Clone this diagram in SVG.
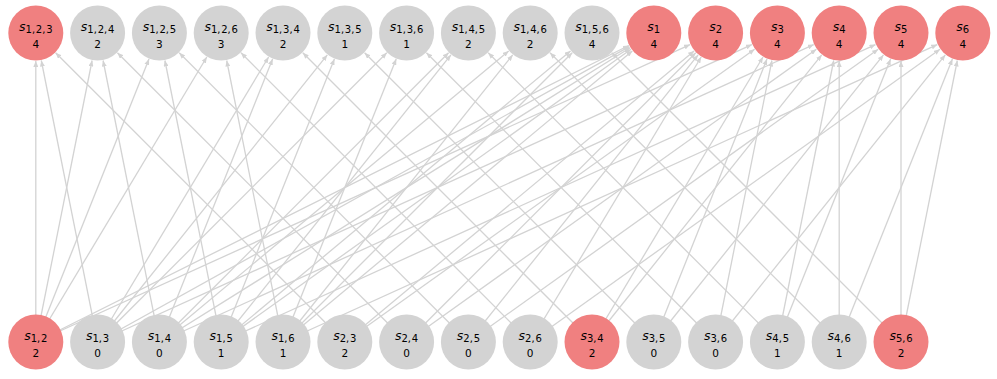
<svg xmlns="http://www.w3.org/2000/svg" width="997" height="379" viewBox="0 0 997 379">
<style>
.e{stroke:#d3d3d3;stroke-width:1.3;fill:none;marker-end:url(#ah)}
.g{fill:#d3d3d3}
.r{fill:#f08080}
.l{font-family:"DejaVu Sans",sans-serif;text-anchor:middle;fill:#000}
.s{font-size:12.5px;font-style:oblique}
.sub{font-size:10px;word-spacing:-2.4px}
.n{font-family:"DejaVu Sans",sans-serif;font-size:10.5px;text-anchor:middle;fill:#000}
</style>
<defs>
<marker id="ah" viewBox="0 0 6 5" refX="6" refY="2.5" markerWidth="6" markerHeight="5" markerUnits="userSpaceOnUse" orient="auto">
<path d="M0,0 L6,2.5 L0,5 z" fill="#d3d3d3"/>
</marker>
</defs>
<rect width="997" height="379" fill="#fff"/>
<g id="edges">
<line class="e" x1="35.8" y1="342" x2="35.8" y2="61"/>
<line class="e" x1="35.8" y1="342" x2="92.1" y2="60.5"/>
<line class="e" x1="35.8" y1="342" x2="149.0" y2="59.0"/>
<line class="e" x1="35.8" y1="342" x2="206.8" y2="57.0"/>
<line class="e" x1="35.8" y1="342" x2="628.8" y2="45.5"/>
<line class="e" x1="35.8" y1="342" x2="690.1" y2="44.6"/>
<line class="e" x1="97.6" y1="342" x2="41.3" y2="60.5"/>
<line class="e" x1="97.6" y1="342" x2="268.6" y2="57.0"/>
<line class="e" x1="97.6" y1="342" x2="327.3" y2="54.9"/>
<line class="e" x1="97.6" y1="342" x2="386.8" y2="52.8"/>
<line class="e" x1="97.6" y1="342" x2="629.3" y2="46.6"/>
<line class="e" x1="97.6" y1="342" x2="751.9" y2="44.6"/>
<line class="e" x1="159.4" y1="342" x2="103.1" y2="60.5"/>
<line class="e" x1="159.4" y1="342" x2="272.6" y2="59.0"/>
<line class="e" x1="159.4" y1="342" x2="448.6" y2="52.8"/>
<line class="e" x1="159.4" y1="342" x2="508.7" y2="50.9"/>
<line class="e" x1="159.4" y1="342" x2="630.1" y2="47.8"/>
<line class="e" x1="159.4" y1="342" x2="813.7" y2="44.6"/>
<line class="e" x1="221.2" y1="342" x2="164.9" y2="60.5"/>
<line class="e" x1="221.2" y1="342" x2="334.4" y2="59.0"/>
<line class="e" x1="221.2" y1="342" x2="450.9" y2="54.9"/>
<line class="e" x1="221.2" y1="342" x2="570.5" y2="50.9"/>
<line class="e" x1="221.2" y1="342" x2="631.0" y2="49.3"/>
<line class="e" x1="221.2" y1="342" x2="875.5" y2="44.6"/>
<line class="e" x1="283" y1="342" x2="226.7" y2="60.5"/>
<line class="e" x1="283" y1="342" x2="396.2" y2="59.0"/>
<line class="e" x1="283" y1="342" x2="512.7" y2="54.9"/>
<line class="e" x1="283" y1="342" x2="572.2" y2="52.8"/>
<line class="e" x1="283" y1="342" x2="632.3" y2="50.9"/>
<line class="e" x1="283" y1="342" x2="937.3" y2="44.6"/>
<line class="e" x1="344.8" y1="342" x2="55.6" y2="52.8"/>
<line class="e" x1="344.8" y1="342" x2="694.1" y2="50.9"/>
<line class="e" x1="344.8" y1="342" x2="754.6" y2="49.3"/>
<line class="e" x1="406.6" y1="342" x2="117.4" y2="52.8"/>
<line class="e" x1="406.6" y1="342" x2="695.8" y2="52.8"/>
<line class="e" x1="406.6" y1="342" x2="816.4" y2="49.3"/>
<line class="e" x1="468.4" y1="342" x2="179.2" y2="52.8"/>
<line class="e" x1="468.4" y1="342" x2="698.1" y2="54.9"/>
<line class="e" x1="468.4" y1="342" x2="878.2" y2="49.3"/>
<line class="e" x1="530.2" y1="342" x2="241.0" y2="52.8"/>
<line class="e" x1="530.2" y1="342" x2="701.2" y2="57.0"/>
<line class="e" x1="530.2" y1="342" x2="940.0" y2="49.3"/>
<line class="e" x1="592" y1="342" x2="302.8" y2="52.8"/>
<line class="e" x1="592" y1="342" x2="763.0" y2="57.0"/>
<line class="e" x1="592" y1="342" x2="821.7" y2="54.9"/>
<line class="e" x1="653.8" y1="342" x2="364.6" y2="52.8"/>
<line class="e" x1="653.8" y1="342" x2="767.0" y2="59.0"/>
<line class="e" x1="653.8" y1="342" x2="883.5" y2="54.9"/>
<line class="e" x1="715.6" y1="342" x2="426.4" y2="52.8"/>
<line class="e" x1="715.6" y1="342" x2="771.9" y2="60.5"/>
<line class="e" x1="715.6" y1="342" x2="945.3" y2="54.9"/>
<line class="e" x1="777.4" y1="342" x2="488.2" y2="52.8"/>
<line class="e" x1="777.4" y1="342" x2="833.7" y2="60.5"/>
<line class="e" x1="777.4" y1="342" x2="890.6" y2="59.0"/>
<line class="e" x1="839.2" y1="342" x2="550.0" y2="52.8"/>
<line class="e" x1="839.2" y1="342" x2="839.2" y2="61"/>
<line class="e" x1="839.2" y1="342" x2="952.4" y2="59.0"/>
<line class="e" x1="901" y1="342" x2="611.8" y2="52.8"/>
<line class="e" x1="901" y1="342" x2="901" y2="61"/>
<line class="e" x1="901" y1="342" x2="957.3" y2="60.5"/>
</g>
<g id="s123"><circle class="r" cx="35.8" cy="33" r="27.5"/><text class="l" x="35.8" y="31"><tspan class="s">s</tspan><tspan class="sub" dy="2.3">1, 2, 3</tspan></text><text class="n" x="35.8" y="47.5">4</text></g>
<g id="s124"><circle class="g" cx="97.6" cy="33" r="27.5"/><text class="l" x="97.6" y="31"><tspan class="s">s</tspan><tspan class="sub" dy="2.3">1, 2, 4</tspan></text><text class="n" x="97.6" y="47.5">2</text></g>
<g id="s125"><circle class="g" cx="159.4" cy="33" r="27.5"/><text class="l" x="159.4" y="31"><tspan class="s">s</tspan><tspan class="sub" dy="2.3">1, 2, 5</tspan></text><text class="n" x="159.4" y="47.5">3</text></g>
<g id="s126"><circle class="g" cx="221.2" cy="33" r="27.5"/><text class="l" x="221.2" y="31"><tspan class="s">s</tspan><tspan class="sub" dy="2.3">1, 2, 6</tspan></text><text class="n" x="221.2" y="47.5">3</text></g>
<g id="s134"><circle class="g" cx="283" cy="33" r="27.5"/><text class="l" x="283" y="31"><tspan class="s">s</tspan><tspan class="sub" dy="2.3">1, 3, 4</tspan></text><text class="n" x="283" y="47.5">2</text></g>
<g id="s135"><circle class="g" cx="344.8" cy="33" r="27.5"/><text class="l" x="344.8" y="31"><tspan class="s">s</tspan><tspan class="sub" dy="2.3">1, 3, 5</tspan></text><text class="n" x="344.8" y="47.5">1</text></g>
<g id="s136"><circle class="g" cx="406.6" cy="33" r="27.5"/><text class="l" x="406.6" y="31"><tspan class="s">s</tspan><tspan class="sub" dy="2.3">1, 3, 6</tspan></text><text class="n" x="406.6" y="47.5">1</text></g>
<g id="s145"><circle class="g" cx="468.4" cy="33" r="27.5"/><text class="l" x="468.4" y="31"><tspan class="s">s</tspan><tspan class="sub" dy="2.3">1, 4, 5</tspan></text><text class="n" x="468.4" y="47.5">2</text></g>
<g id="s146"><circle class="g" cx="530.2" cy="33" r="27.5"/><text class="l" x="530.2" y="31"><tspan class="s">s</tspan><tspan class="sub" dy="2.3">1, 4, 6</tspan></text><text class="n" x="530.2" y="47.5">2</text></g>
<g id="s156"><circle class="g" cx="592" cy="33" r="27.5"/><text class="l" x="592" y="31"><tspan class="s">s</tspan><tspan class="sub" dy="2.3">1, 5, 6</tspan></text><text class="n" x="592" y="47.5">4</text></g>
<g id="s1"><circle class="r" cx="653.8" cy="33" r="27.5"/><text class="l" x="653.8" y="31"><tspan class="s">s</tspan><tspan class="sub" dy="2.3">1</tspan></text><text class="n" x="653.8" y="47.5">4</text></g>
<g id="s2"><circle class="r" cx="715.6" cy="33" r="27.5"/><text class="l" x="715.6" y="31"><tspan class="s">s</tspan><tspan class="sub" dy="2.3">2</tspan></text><text class="n" x="715.6" y="47.5">4</text></g>
<g id="s3"><circle class="r" cx="777.4" cy="33" r="27.5"/><text class="l" x="777.4" y="31"><tspan class="s">s</tspan><tspan class="sub" dy="2.3">3</tspan></text><text class="n" x="777.4" y="47.5">4</text></g>
<g id="s4"><circle class="r" cx="839.2" cy="33" r="27.5"/><text class="l" x="839.2" y="31"><tspan class="s">s</tspan><tspan class="sub" dy="2.3">4</tspan></text><text class="n" x="839.2" y="47.5">4</text></g>
<g id="s5"><circle class="r" cx="901" cy="33" r="27.5"/><text class="l" x="901" y="31"><tspan class="s">s</tspan><tspan class="sub" dy="2.3">5</tspan></text><text class="n" x="901" y="47.5">4</text></g>
<g id="s6"><circle class="r" cx="962.8" cy="33" r="27.5"/><text class="l" x="962.8" y="31"><tspan class="s">s</tspan><tspan class="sub" dy="2.3">6</tspan></text><text class="n" x="962.8" y="47.5">4</text></g>
<g id="s12"><circle class="r" cx="35.8" cy="342" r="27.5"/><text class="l" x="35.8" y="340"><tspan class="s">s</tspan><tspan class="sub" dy="2.3">1, 2</tspan></text><text class="n" x="35.8" y="356.5">2</text></g>
<g id="s13"><circle class="g" cx="97.6" cy="342" r="27.5"/><text class="l" x="97.6" y="340"><tspan class="s">s</tspan><tspan class="sub" dy="2.3">1, 3</tspan></text><text class="n" x="97.6" y="356.5">0</text></g>
<g id="s14"><circle class="g" cx="159.4" cy="342" r="27.5"/><text class="l" x="159.4" y="340"><tspan class="s">s</tspan><tspan class="sub" dy="2.3">1, 4</tspan></text><text class="n" x="159.4" y="356.5">0</text></g>
<g id="s15"><circle class="g" cx="221.2" cy="342" r="27.5"/><text class="l" x="221.2" y="340"><tspan class="s">s</tspan><tspan class="sub" dy="2.3">1, 5</tspan></text><text class="n" x="221.2" y="356.5">1</text></g>
<g id="s16"><circle class="g" cx="283" cy="342" r="27.5"/><text class="l" x="283" y="340"><tspan class="s">s</tspan><tspan class="sub" dy="2.3">1, 6</tspan></text><text class="n" x="283" y="356.5">1</text></g>
<g id="s23"><circle class="g" cx="344.8" cy="342" r="27.5"/><text class="l" x="344.8" y="340"><tspan class="s">s</tspan><tspan class="sub" dy="2.3">2, 3</tspan></text><text class="n" x="344.8" y="356.5">2</text></g>
<g id="s24"><circle class="g" cx="406.6" cy="342" r="27.5"/><text class="l" x="406.6" y="340"><tspan class="s">s</tspan><tspan class="sub" dy="2.3">2, 4</tspan></text><text class="n" x="406.6" y="356.5">0</text></g>
<g id="s25"><circle class="g" cx="468.4" cy="342" r="27.5"/><text class="l" x="468.4" y="340"><tspan class="s">s</tspan><tspan class="sub" dy="2.3">2, 5</tspan></text><text class="n" x="468.4" y="356.5">0</text></g>
<g id="s26"><circle class="g" cx="530.2" cy="342" r="27.5"/><text class="l" x="530.2" y="340"><tspan class="s">s</tspan><tspan class="sub" dy="2.3">2, 6</tspan></text><text class="n" x="530.2" y="356.5">0</text></g>
<g id="s34"><circle class="r" cx="592" cy="342" r="27.5"/><text class="l" x="592" y="340"><tspan class="s">s</tspan><tspan class="sub" dy="2.3">3, 4</tspan></text><text class="n" x="592" y="356.5">2</text></g>
<g id="s35"><circle class="g" cx="653.8" cy="342" r="27.5"/><text class="l" x="653.8" y="340"><tspan class="s">s</tspan><tspan class="sub" dy="2.3">3, 5</tspan></text><text class="n" x="653.8" y="356.5">0</text></g>
<g id="s36"><circle class="g" cx="715.6" cy="342" r="27.5"/><text class="l" x="715.6" y="340"><tspan class="s">s</tspan><tspan class="sub" dy="2.3">3, 6</tspan></text><text class="n" x="715.6" y="356.5">0</text></g>
<g id="s45"><circle class="g" cx="777.4" cy="342" r="27.5"/><text class="l" x="777.4" y="340"><tspan class="s">s</tspan><tspan class="sub" dy="2.3">4, 5</tspan></text><text class="n" x="777.4" y="356.5">1</text></g>
<g id="s46"><circle class="g" cx="839.2" cy="342" r="27.5"/><text class="l" x="839.2" y="340"><tspan class="s">s</tspan><tspan class="sub" dy="2.3">4, 6</tspan></text><text class="n" x="839.2" y="356.5">1</text></g>
<g id="s56"><circle class="r" cx="901" cy="342" r="27.5"/><text class="l" x="901" y="340"><tspan class="s">s</tspan><tspan class="sub" dy="2.3">5, 6</tspan></text><text class="n" x="901" y="356.5">2</text></g>
</svg>
